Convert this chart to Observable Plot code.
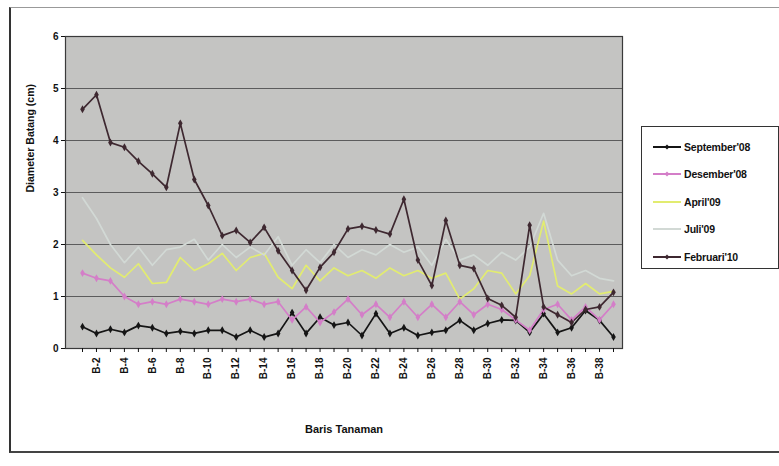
<!DOCTYPE html>
<html>
<head>
<meta charset="utf-8">
<script src="https://cdn.jsdelivr.net/npm/d3@7"></script>
<script src="https://cdn.jsdelivr.net/npm/@observablehq/plot@0.6"></script>
<style>
  body { margin: 0; background: #fff; }
  #chart { position: relative; width: 779px; height: 466px; overflow: hidden;
           font-family: "Liberation Sans Narrow", "Liberation Sans", Arial, sans-serif; }
  #chart > svg { position: absolute; left: 0; top: 0; }
  #border { position: absolute; left: 9px; top: 7px; width: 768px; height: 443px;
            border-top: 1px solid #999; border-right: 1px solid #999;
            border-left: 2px solid #333; border-bottom: 2px solid #444; }
  #legend { position: absolute; left: 641px; top: 126px; width: 138px; height: 143px;
            border: 1px solid #333; background: #fff; box-sizing: border-box;
            padding: 6px 0 0 10px; }
  #legend .item { display: flex; align-items: center; height: 27.5px; font-weight: bold;
          font-size: 10.5px; color: #111; letter-spacing: -0.2px; }
  #legend .item svg { position: static; margin-right: 2px; flex: none; }
</style>
</head>
<body>
<div id="chart">
  <div id="border"></div>
  <div id="legend"></div>
</div>
<script>
// Plant rows along the x axis
const rows = ["B-1","B-2","B-3","B-4","B-5","B-6","B-7","B-8","B-9","B-10",
  "B-11","B-12","B-13","B-14","B-15","B-16","B-17","B-18","B-19","B-20",
  "B-21","B-22","B-23","B-24","B-25","B-26","B-27","B-28","B-29","B-30",
  "B-31","B-32","B-33","B-34","B-35","B-36","B-37","B-38","B-39"];

// Rows that carry a tick label
const labeledRows = ["B-2","B-4","B-6","B-8","B-10","B-12","B-14","B-16","B-18","B-20",
  "B-22","B-24","B-26","B-28","B-30","B-32","B-34","B-36","B-38"];

const yTicks = [0, 1, 2, 3, 4, 5, 6];

// Stem diameter (cm) per measurement date
const september08 = [0.42,0.29,0.37,0.31,0.44,0.40,0.29,0.33,0.29,0.35,
  0.35,0.22,0.35,0.22,0.29,0.69,0.29,0.60,0.45,0.50,
  0.25,0.67,0.29,0.40,0.25,0.31,0.35,0.54,0.35,0.48,
  0.55,0.54,0.31,0.67,0.31,0.40,0.73,0.54,0.22];

const desember08 = [1.45,1.35,1.30,1.00,0.85,0.90,0.85,0.95,0.90,0.85,
  0.95,0.90,0.95,0.85,0.90,0.55,0.80,0.50,0.70,0.95,
  0.65,0.85,0.60,0.90,0.60,0.85,0.60,0.90,0.65,0.85,
  0.75,0.55,0.35,0.75,0.85,0.55,0.80,0.55,0.85];

const april09 = [2.08,1.80,1.55,1.37,1.63,1.25,1.27,1.75,1.50,1.63,
  1.83,1.50,1.75,1.83,1.37,1.15,1.60,1.30,1.55,1.40,
  1.50,1.35,1.55,1.40,1.50,1.35,1.45,0.95,1.15,1.50,
  1.45,1.05,1.40,2.45,1.20,1.05,1.25,1.05,1.10];

const juli09 = [2.90,2.50,2.00,1.65,1.95,1.60,1.90,1.95,2.10,1.70,
  2.00,1.75,1.95,1.80,2.15,1.60,1.90,1.65,2.00,1.75,
  1.90,1.80,2.00,1.85,1.95,1.60,2.10,1.70,1.80,1.60,
  1.85,1.70,1.95,2.60,1.70,1.40,1.50,1.35,1.30];

const februari10 = [4.60,4.88,3.96,3.87,3.60,3.36,3.10,4.33,3.25,2.75,
  2.17,2.27,2.04,2.33,1.88,1.50,1.12,1.56,1.85,2.30,
  2.35,2.28,2.20,2.87,1.70,1.21,2.46,1.60,1.54,0.96,
  0.83,0.60,2.37,0.80,0.65,0.50,0.75,0.80,1.08];

const seriesNames = ["September'08", "Desember'08", "April'09", "Juli'09", "Februari'10"];
const seriesValues = [september08, desember08, april09, juli09, februari10];
const seriesColors = ["#151515", "#d47ec8", "#e2ec70", "#d2d9d5", "#3e2830"];
const seriesMarked = [true, true, false, false, true];

const table = seriesNames.flatMap((name, s) =>
  rows.map((row, i) => ({ row, value: seriesValues[s][i], name })));

const fontFamily = '"Liberation Sans Narrow", "Liberation Sans", Arial, sans-serif';

const plot = Plot.plot({
  width: 779,
  height: 466,
  marginLeft: 65,
  marginRight: 157,
  marginTop: 36,
  marginBottom: 118,
  style: { fontFamily, fontSize: "10px", fontWeight: "bold", color: "#111", background: "transparent" },
  x: { type: "point", domain: rows, padding: 0, insetLeft: 17, insetRight: 9, label: null },
  y: { domain: [0, 6], label: null },
  color: { domain: seriesNames, range: seriesColors },
  marks: [
    Plot.frame({ fill: "#c4c4c2" }),
    Plot.gridY([1, 2, 3, 4, 5], { stroke: "#5c5c5c", strokeOpacity: 1, strokeWidth: 1.2 }),
    Plot.frame({ stroke: "#3a3a3a", strokeWidth: 1.2 }),
    Plot.axisY({ ticks: yTicks, tickFormat: d3.format("d"), tickSize: 4, tickPadding: 3, label: null, fontSize: 10 }),
    Plot.axisX({
      tickSize: 4, tickPadding: 5, tickRotate: -90, label: null, fontSize: 10,
      tickFormat: d => labeledRows.includes(d) ? d : ""
    }),
    ...seriesNames.map(name =>
      Plot.line(table.filter(d => d.name === name), {
        x: "row", y: "value", stroke: "name", strokeWidth: 1.7
      })),
    ...seriesNames.filter((_, s) => seriesMarked[s]).map(name =>
      Plot.dot(table.filter(d => d.name === name), {
        x: "row", y: "value", fill: "name", symbol: "diamond", r: 2.4
      })),
    Plot.text(["Diameter Batang (cm)"], {
      frameAnchor: "left", dx: -35, rotate: -90, fontSize: 10.5, fontWeight: "bold", fill: "#111"
    }),
    Plot.text(["Baris Tanaman"], {
      frameAnchor: "bottom", dy: 84, fontSize: 11, fontWeight: "bold", fill: "#111"
    })
  ]
});

document.getElementById("chart").insertBefore(plot, document.getElementById("border"));

// Legend: line swatch with optional marker, then the series name
const legend = document.getElementById("legend");
seriesNames.forEach((name, s) => {
  const item = document.createElement("div");
  item.className = "item";
  const marker = seriesMarked[s]
    ? `<path d="M15,2.5 L17.5,5 L15,7.5 L12.5,5 Z" fill="${seriesColors[s]}"/>` : "";
  item.innerHTML =
    `<svg width="30" height="10"><line x1="1" y1="5" x2="29" y2="5" stroke="${seriesColors[s]}" stroke-width="2"/>${marker}</svg><span>${name}</span>`;
  legend.appendChild(item);
});
</script>
</body>
</html>
